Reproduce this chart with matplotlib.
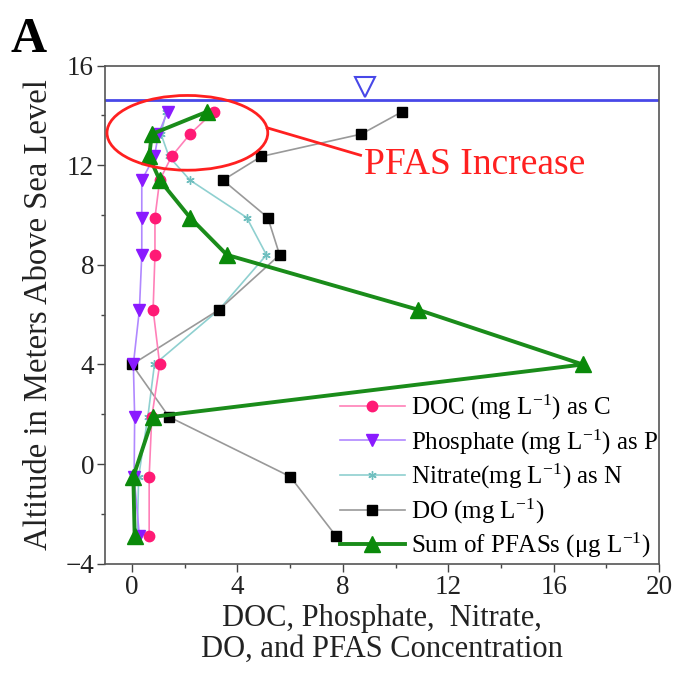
import numpy as np
import matplotlib.pyplot as plt
from matplotlib.patches import Ellipse
from matplotlib.ticker import MultipleLocator

plt.rcParams['font.family'] = ['Liberation Serif', 'DejaVu Serif']
plt.rcParams['mathtext.fontset'] = 'stix'

# altitude of each sampling point (m above sea level)
altitude = [14.15, 13.25, 12.35, 11.4, 9.9, 8.4, 6.2, 4.0, 1.9, -0.5, -2.9]

doc = [3.1, 2.2, 1.5, 1.05, 0.87, 0.87, 0.8, 1.05, 0.75, 0.65, 0.65]
phosphate = [1.35, 1.0, 0.85, 0.37, 0.37, 0.37, 0.28, 0.05, 0.1, 0.08, 0.28]
nitrate = [1.3, 1.1, 1.4, 2.2, 4.35, 5.1, 3.3, 0.85, 0.6, 0.25, 0.2]
do = [10.25, 8.7, 4.9, 3.45, 5.15, 5.6, 3.3, 0.0, 1.4, 6.0, 7.75]
pfas = [2.85, 0.75, 0.65, 1.05, 2.2, 3.6, 10.85, 17.1, 0.8, 0.05, 0.1]

water_level = 14.63
water_marker_x = 8.85

fig = plt.figure(figsize=(6.74, 6.76), dpi=100)
ax = fig.add_axes([0.156, 0.166, 0.822, 0.737])

ax.axhline(water_level, color='#4848e8', lw=2, zorder=1)
ax.plot([water_marker_x], [water_level + 0.5], marker='v', ms=15, mfc='white',
        mec='#4848e8', mew=1.5, ls='none', clip_on=False)

ax.plot(nitrate, altitude, color='#8fd0d0', lw=1.2, marker=(6, 2, 0), ms=6,
        mfc='#6fbfbf', mec='#6fbfbf', label=r'Nitrate(mg L$^{\mathdefault{-1}}$) as N', zorder=2)
ax.plot(do, altitude, color='#999999', lw=1.2, marker='s', ms=7,
        mfc='black', mec='black', label=r'DO (mg L$^{\mathdefault{-1}}$)', zorder=2.5)
ax.plot(doc, altitude, color='#ff80b8', lw=1.2, marker='o', ms=7.5,
        mfc='#ff1a75', mec='#ff1a75', label=r'DOC (mg L$^{\mathdefault{-1}}$) as C', zorder=3)
ax.plot(phosphate, altitude, color='#b088ff', lw=1.2, marker='v', ms=9,
        mfc='#8a1aff', mec='#8a1aff', label=r'Phosphate (mg L$^{\mathdefault{-1}}$) as P', zorder=3.5)
ax.plot(pfas, altitude, color='#1a8c1a', lw=2.8, marker='^', ms=12,
        mfc='#0a8a0a', mec='#0a8a0a', label=r'Sum of PFASs ($\mathdefault{\mu}$g L$^{\mathdefault{-1}}$)', zorder=4)

# highlight of the PFAS increase near the surface
ax.add_patch(Ellipse((2.1, 13.3), 6.1, 3.0, fill=False, ec='#ff2020', lw=2, zorder=5))
ax.plot([5.13, 8.67], [13.5, 12.4], color='#ff2020', lw=2, zorder=5)
ax.text(8.8, 12.0, 'PFAS Increase', color='#ff2020', fontsize=27, va='center', ha='left')

ax.set_xlim(-1.02, 20)
ax.set_ylim(-4, 16)
ax.xaxis.set_major_locator(MultipleLocator(4))
ax.xaxis.set_minor_locator(MultipleLocator(2))
ax.yaxis.set_major_locator(MultipleLocator(4))
ax.yaxis.set_minor_locator(MultipleLocator(2))
ax.tick_params(which='major', direction='out', length=6, width=1, labelsize=19.5,
               colors='#444444', labelcolor='#222222', pad=2)
ax.tick_params(which='minor', direction='out', length=3, width=1, colors='#444444')
for s in ax.spines.values():
    s.set_color('#555555')
    s.set_linewidth(1.2)

ax.set_xlabel('DOC, Phosphate,  Nitrate,\nDO, and PFAS Concentration', fontsize=22,
              color='#222222', labelpad=3, linespacing=1.1)
ax.set_ylabel('Altitude in Meters Above Sea Level', fontsize=23.5, color='#222222', labelpad=8)

handles, labels = ax.get_legend_handles_labels()
order = [2, 3, 0, 1, 4]
ax.legend([handles[i] for i in order], [labels[i] for i in order],
          loc='lower right', bbox_to_anchor=(1.012, -0.008), frameon=False, fontsize=18,
          handlelength=2.6, handletextpad=0.25, labelspacing=0.2, borderaxespad=0.0,
          borderpad=0.3)

fig.text(0.015, 0.975, 'A', fontsize=36, fontweight='bold', va='top', ha='left')

plt.savefig('out.png', dpi=100)
